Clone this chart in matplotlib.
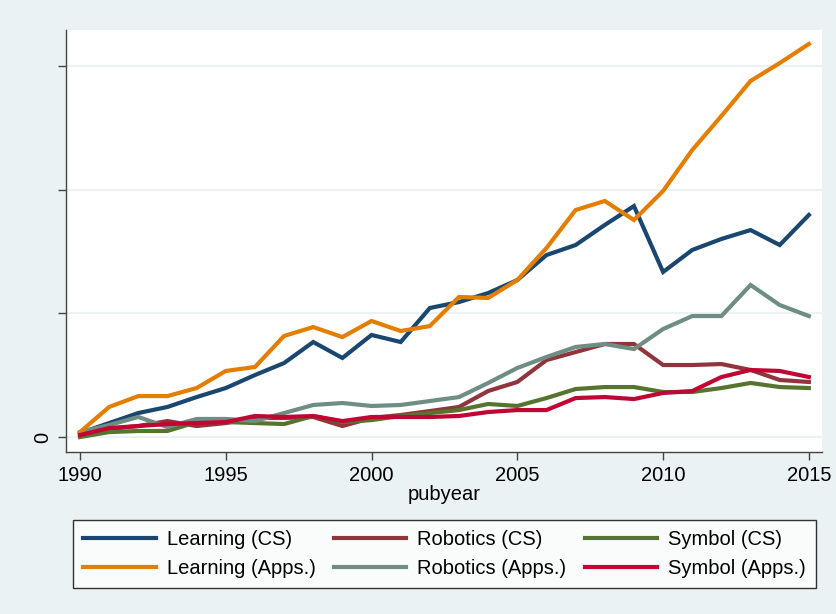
import numpy as np
import matplotlib.pyplot as plt

# Годы публикаций
years = np.arange(1990, 2016)

# Значения рядов (шаг сетки = 1)
learning_cs = [0.032, 0.113, 0.194, 0.243, 0.323, 0.396, 0.501, 0.598, 0.768, 0.639,
               0.825, 0.768, 1.043, 1.091, 1.164, 1.269, 1.471, 1.552, 1.714, 1.867,
               1.334, 1.512, 1.601, 1.673, 1.552, 1.795]
learning_apps = [0.040, 0.243, 0.331, 0.331, 0.396, 0.534, 0.566, 0.817, 0.889, 0.808,
                 0.938, 0.857, 0.897, 1.132, 1.124, 1.269, 1.528, 1.835, 1.908, 1.754,
                 1.989, 2.320, 2.595, 2.878, 3.023, 3.177]
robotics_cs = [0.024, 0.065, 0.089, 0.129, 0.089, 0.113, 0.154, 0.154, 0.162, 0.089,
               0.154, 0.178, 0.210, 0.243, 0.372, 0.445, 0.622, 0.687, 0.752, 0.752,
               0.582, 0.582, 0.590, 0.542, 0.461, 0.445]
robotics_apps = [0.040, 0.097, 0.162, 0.081, 0.146, 0.146, 0.129, 0.194, 0.259, 0.275,
                 0.251, 0.259, 0.291, 0.323, 0.437, 0.558, 0.647, 0.728, 0.752, 0.711,
                 0.873, 0.978, 0.978, 1.229, 1.067, 0.978]
symbol_cs = [0.000, 0.040, 0.049, 0.049, 0.121, 0.121, 0.113, 0.105, 0.170, 0.121,
             0.137, 0.170, 0.194, 0.218, 0.267, 0.251, 0.315, 0.388, 0.404, 0.404,
             0.364, 0.364, 0.396, 0.437, 0.404, 0.396]
symbol_apps = [0.016, 0.073, 0.089, 0.105, 0.113, 0.121, 0.170, 0.162, 0.170, 0.129,
               0.162, 0.162, 0.162, 0.170, 0.202, 0.218, 0.218, 0.315, 0.323, 0.307,
               0.356, 0.372, 0.485, 0.542, 0.534, 0.485]

x_ticks = [1990, 1995, 2000, 2005, 2010, 2015]
y_ticks = [0, 1, 2, 3]
y_tick_labels = ['0', '', '', '']

plt.rcParams['font.family'] = ['Liberation Sans', 'DejaVu Sans']
bg = '#EAF2F3'

fig = plt.figure(figsize=(8.36, 6.14), dpi=100, facecolor=bg)
ax = fig.add_axes([66 / 836, 1 - 452 / 614, (822 - 66) / 836, (452 - 30) / 614])
ax.set_facecolor('white')

# Порядок важен для легенды (заполняется по столбцам)
series = [
    (learning_cs, 'Learning (CS)', '#1A476F'),
    (learning_apps, 'Learning (Apps.)', '#E37E00'),
    (robotics_cs, 'Robotics (CS)', '#90353B'),
    (robotics_apps, 'Robotics (Apps.)', '#6E8E84'),
    (symbol_cs, 'Symbol (CS)', '#55752F'),
    (symbol_apps, 'Symbol (Apps.)', '#C10534'),
]
draw_order = [0, 2, 4, 3, 1, 5]
lines = {}
for i in draw_order:
    vals, name, col = series[i]
    lines[i], = ax.plot(years, vals, color=col, lw=3, label=name, solid_joinstyle='miter')

ax.set_xlim(1989.52, 2015.45)
ax.set_ylim(-0.121, 3.29)
ax.set_xticks(x_ticks)
ax.set_yticks(y_ticks)
ax.set_yticklabels(y_tick_labels, rotation=90, va='center')
ax.grid(axis='y', color=bg, lw=1.5)
ax.set_axisbelow(True)
for s in ['top', 'right']:
    ax.spines[s].set_visible(False)
for s in ['left', 'bottom']:
    ax.spines[s].set_color('#444444')
    ax.spines[s].set_linewidth(1)
ax.tick_params(length=6, width=1, color='#444444', labelsize=14.5, pad=4)
ax.set_xlabel('pubyear', fontsize=14.5, labelpad=0)

handles = [lines[i] for i in range(6)]
leg = fig.legend(handles, [s[1] for s in series], ncol=3, loc='lower left',
                 bbox_to_anchor=(73 / 836, 26 / 614, (816 - 73) / 836, 70 / 614),
                 mode='expand', fontsize=14.5, frameon=True, fancybox=False,
                 edgecolor='black', handlelength=3.6, handletextpad=0.55,
                 borderaxespad=0, labelspacing=0.5, borderpad=0.5)
leg.get_frame().set_linewidth(1)

plt.savefig('out.png', dpi=100, facecolor=bg)
